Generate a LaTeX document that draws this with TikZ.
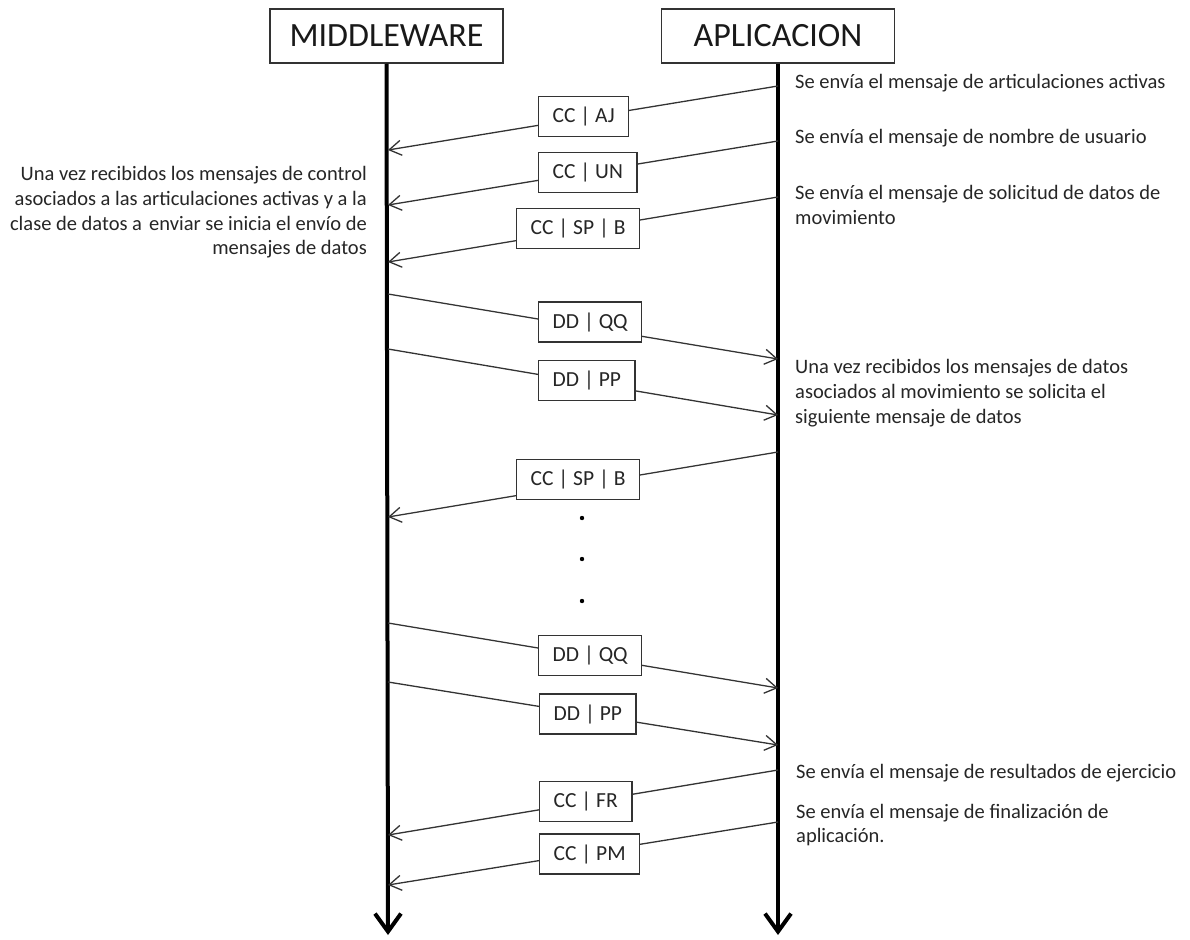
\documentclass[tikz,border=0pt]{standalone}
\usepackage{fontspec}
\setmainfont{Carlito}
\usetikzlibrary{arrows.meta}
\begin{document}
\begin{tikzpicture}[x=1pt,y=-1pt,
  head/.style={draw=black!80, line width=1.5pt, fill=white, minimum width=233pt, minimum height=54pt, inner sep=0pt, font=\fontsize{34}{40}\selectfont, text=black!90},
  msgbox/.style={draw=black!80, line width=1.4pt, fill=white, anchor=west, minimum height=40pt, inner xsep=14pt, inner ysep=0pt, font=\fontsize{21.5}{24}\selectfont, text=black!85},
  life/.style={line width=4pt, -{Straight Barb[length=18pt,width=26pt]}},
  arr/.style={draw=black!80, line width=1.3pt, -{Straight Barb[length=12pt,width=15pt]}},
  note/.style={font=\fontsize{20.5}{24.7}\selectfont, text=black!85, inner sep=0pt},
  dotmark/.style={fill=black, draw=none}
]
\useasboundingbox (0,0) rectangle (1190,939);
\fill[white] (0,0) rectangle (1190,939);

% headers
\node[head] (mw) at (386.5,36) {MIDDLEWARE};
\node[head] (ap) at (778,36) {APLICACION};

% lifelines
\coordinate (mwEnd) at (388,935);
\coordinate (apEnd) at (778,935);
\draw[life] (mw.south) -- (mwEnd);
\draw[life] (ap.south) -- (apEnd);

% message end points
\coordinate (r1) at (778,86);  \coordinate (l1) at (388,150);
\coordinate (r2) at (778,141); \coordinate (l2) at (388,205);
\coordinate (r3) at (778,197); \coordinate (l3) at (388,262);
\coordinate (l4) at (388,294); \coordinate (r4) at (778,359);
\coordinate (l5) at (388,349); \coordinate (r5) at (778,415);
\coordinate (r6) at (778,452); \coordinate (l6) at (388,517);
\coordinate (l7) at (388,623); \coordinate (r7) at (778,688);
\coordinate (l8) at (388,682); \coordinate (r8) at (778,745);
\coordinate (r9) at (778,770); \coordinate (l9) at (388,835);
\coordinate (r10) at (778,822); \coordinate (l10) at (388,885);

\draw[arr] (r1) -- (l1);
\draw[arr] (r2) -- (l2);
\draw[arr] (r3) -- (l3);
\draw[arr] (l4) -- (r4);
\draw[arr] (l5) -- (r5);
\draw[arr] (r6) -- (l6);
\draw[arr] (l7) -- (r7);
\draw[arr] (l8) -- (r8);
\draw[arr] (r9) -- (l9);
\draw[arr] (r10) -- (l10);

% message labels
\node[msgbox] (b1) at (538,116.5) {CC | AJ};
\node[msgbox] (b2) at (538,172.5) {CC | UN};
\node[msgbox] (b3) at (516,228.5) {CC | SP | B};
\node[msgbox] (b4) at (538,322) {DD | QQ};
\node[msgbox] (b5) at (538,380.5) {DD | PP};
\node[msgbox] (b6) at (516,479.5) {CC | SP | B};
\node[msgbox] (b7) at (538,655.5) {DD | QQ};
\node[msgbox] (b8) at (539,714) {DD | PP};
\node[msgbox] (b9) at (539,801.5) {CC | FR};
\node[msgbox] (b10) at (539,854) {CC | PM};

% ellipsis
\fill[dotmark] (582,518) circle (2.2);
\fill[dotmark] (582,559) circle (2.2);
\fill[dotmark] (582,601) circle (2.2);

% notes
\node[note, anchor=east, align=right] (nl) at (367,212.5) {Una vez recibidos los mensajes de control\\asociados a las articulaciones activas y a la\\clase de datos a\hspace{2.5pt} enviar se inicia el envío de\\mensajes de datos};
\node[note, anchor=west, align=left] (n1) at (795,83) {Se envía el mensaje de articulaciones activas};
\node[note, anchor=west, align=left] (n2) at (795,138) {Se envía el mensaje de nombre de usuario};
\node[note, anchor=west, align=left] (n3) at (795,205) {Se envía el mensaje de solicitud de datos de\\movimiento};
\node[note, anchor=west, align=left] (n4) at (795,393) {Una vez recibidos los mensajes de datos\\asociados al movimiento se solicita el\\siguiente mensaje de datos};
\node[note, anchor=west, align=left] (n5) at (796,773) {Se envía el mensaje de resultados de ejercicio};
\node[note, anchor=west, align=left] (n6) at (796,825) {Se envía el mensaje de finalización de\\aplicación.};
\end{tikzpicture}
\end{document}
